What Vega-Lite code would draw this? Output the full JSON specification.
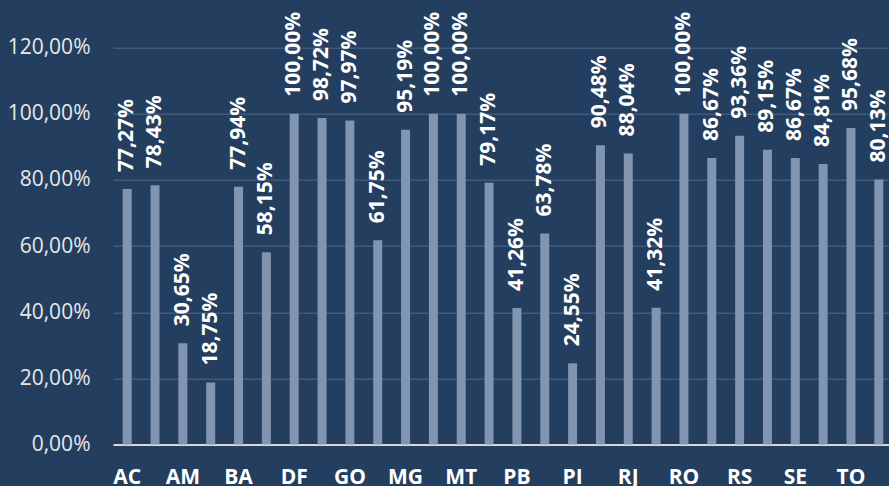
{
  "$schema": "https://vega.github.io/schema/vega-lite/v6.json",
  "autosize": {"type": "none"},
  "padding": {"left": 113, "top": 47.7, "right": 0, "bottom": 41.5},
  "width": 780,
  "height": 396.8,
  "background": "#243e5f",
  "config": {
    "view": {"stroke": null},
    "font": "Open Sans",
    "locale": {"number": {"decimal": ",", "thousands": ".", "grouping": [3], "currency": ["R$", ""]}}
  },
  "data": {
    "values": [
      {"uf": "AC", "v": 0.7727},
      {"uf": "AL", "v": 0.7843},
      {"uf": "AM", "v": 0.3065},
      {"uf": "AP", "v": 0.1875},
      {"uf": "BA", "v": 0.7794},
      {"uf": "CE", "v": 0.5815},
      {"uf": "DF", "v": 1.0},
      {"uf": "ES", "v": 0.9872},
      {"uf": "GO", "v": 0.9797},
      {"uf": "MA", "v": 0.6175},
      {"uf": "MG", "v": 0.9519},
      {"uf": "MS", "v": 1.0},
      {"uf": "MT", "v": 1.0},
      {"uf": "PA", "v": 0.7917},
      {"uf": "PB", "v": 0.4126},
      {"uf": "PE", "v": 0.6378},
      {"uf": "PI", "v": 0.2455},
      {"uf": "PR", "v": 0.9048},
      {"uf": "RJ", "v": 0.8804},
      {"uf": "RN", "v": 0.4132},
      {"uf": "RO", "v": 1.0},
      {"uf": "RR", "v": 0.8667},
      {"uf": "RS", "v": 0.9336},
      {"uf": "SC", "v": 0.8915},
      {"uf": "SE", "v": 0.8667},
      {"uf": "SP", "v": 0.8481},
      {"uf": "TO", "v": 0.9568},
      {"uf": "BR", "v": 0.8013}
    ]
  },
  "encoding": {
    "x": {
      "field": "uf", "type": "nominal", "sort": null,
      "scale": {"paddingInner": 0.677, "paddingOuter": 0.348},
      "axis": {
        "title": null,
        "values": ["AC", "AM", "BA", "DF", "GO", "MG", "MT", "PB", "PI", "RJ", "RO", "RS", "SE", "TO"],
        "labelAngle": 0,
        "labelFont": "Open Sans",
        "labelFontSize": 21,
        "labelFontWeight": "bold",
        "labelColor": "#ffffff",
        "labelPadding": 22,
        "labelOverlap": false,
        "ticks": false,
        "domainColor": "#d9d9d9",
        "domainWidth": 2,
        "grid": false
      }
    },
    "y": {
      "field": "v", "type": "quantitative",
      "scale": {"domain": [0, 1.2], "nice": false},
      "axis": {
        "title": null,
        "values": [0, 0.2, 0.4, 0.6, 0.8, 1.0, 1.2],
        "format": ".2%",
        "labelFont": "Open Sans",
        "labelFontSize": 21,
        "labelColor": "#e8e8e8",
        "labelPadding": 23,
        "ticks": false,
        "domain": false,
        "grid": true,
        "gridColor": "#3f5a7a",
        "gridWidth": 1.5
      }
    }
  },
  "layer": [
    {"mark": {"type": "bar", "color": "#8195b0"}},
    {
      "mark": {"type": "text", "angle": 270, "align": "left", "baseline": "middle", "dx": 17, "font": "Open Sans", "fontSize": 21, "fontWeight": "bold", "color": "#ffffff"},
      "encoding": {"text": {"field": "v", "type": "quantitative", "format": ".2%"}}
    }
  ]
}
